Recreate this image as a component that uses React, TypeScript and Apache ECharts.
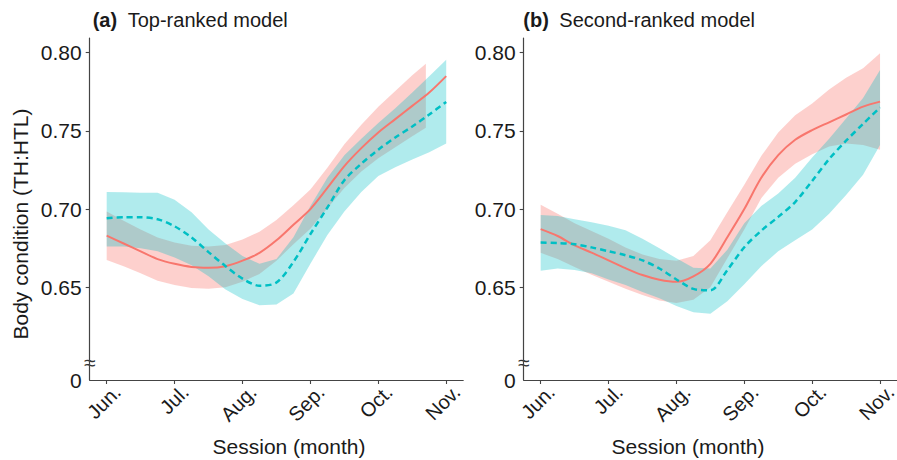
import React, { useEffect, useRef } from "react";
import * as echarts from "echarts";

// ---------- data ----------
const MONTH_TICKS = [6, 7, 8, 9, 10, 11];
const MONTH_LABELS = ["Jun.", "Jul.", "Aug.", "Sep.", "Oct.", "Nov."];
const Y_TICKS = [0.65, 0.7, 0.75, 0.8];
const Y_MIN = 0.5907; // shown as "0" (broken axis)
const Y_MAX = 0.8094;
const BREAK_AT = 0.6016;

const MONTHS = [6, 6.25, 6.5, 6.75, 7, 7.25, 7.5, 7.75, 8, 8.25, 8.5, 8.75, 9, 9.25, 9.5, 9.75, 10, 10.25, 10.5, 10.75, 11];

// (a) Top-ranked model
const A_RED_FIT = [0.683, 0.678, 0.673, 0.668, 0.665, 0.663, 0.6625, 0.6635, 0.667, 0.672, 0.68, 0.69, 0.7, 0.7135, 0.7275, 0.739, 0.749, 0.7575, 0.766, 0.7745, 0.785];
const A_RED_BAND_MONTHS = [6, 6.25, 6.5, 6.75, 7, 7.25, 7.5, 7.75, 8, 8.25, 8.5, 8.75, 9, 9.25, 9.5, 9.75, 10, 10.25, 10.5, 10.7];
const A_RED_LO = [0.6675, 0.6635, 0.659, 0.6542, 0.6514, 0.6495, 0.649, 0.65, 0.6535, 0.6585, 0.667, 0.6775, 0.6875, 0.7005, 0.7135, 0.724, 0.7325, 0.7395, 0.7465, 0.752];
const A_RED_HI = [0.6985, 0.6925, 0.687, 0.6818, 0.6786, 0.6765, 0.676, 0.677, 0.6805, 0.6855, 0.693, 0.7025, 0.7125, 0.7265, 0.7415, 0.754, 0.7655, 0.7755, 0.7855, 0.793];
const A_CYAN_FIT = [0.6941, 0.6948, 0.6948, 0.6935, 0.689, 0.6818, 0.6725, 0.6635, 0.6555, 0.651, 0.653, 0.6662, 0.684, 0.701, 0.7185, 0.729, 0.738, 0.7458, 0.7528, 0.7605, 0.7685];
const A_CYAN_LO = [0.676, 0.676, 0.675, 0.673, 0.669, 0.664, 0.657, 0.6485, 0.6425, 0.6385, 0.639, 0.646, 0.665, 0.6835, 0.6985, 0.711, 0.7212, 0.7267, 0.7317, 0.7363, 0.742];
const A_CYAN_HI = [0.711, 0.7108, 0.7105, 0.7105, 0.706, 0.698, 0.687, 0.678, 0.67, 0.665, 0.668, 0.682, 0.702, 0.72, 0.7345, 0.745, 0.755, 0.7645, 0.7745, 0.785, 0.7955];

// (b) Second-ranked model
const B_RED_FIT = [0.6872, 0.6828, 0.6768, 0.6722, 0.6672, 0.6622, 0.6578, 0.6548, 0.6535, 0.657, 0.665, 0.682, 0.7, 0.72, 0.7345, 0.7443, 0.7505, 0.7555, 0.7605, 0.7655, 0.7687];
const B_RED_LO = [0.672, 0.668, 0.663, 0.658, 0.6535, 0.649, 0.645, 0.6415, 0.64, 0.642, 0.65, 0.6685, 0.687, 0.707, 0.72, 0.729, 0.735, 0.74, 0.742, 0.741, 0.738];
const B_RED_HI = [0.7027, 0.697, 0.691, 0.686, 0.681, 0.6755, 0.671, 0.668, 0.667, 0.67, 0.68, 0.698, 0.7155, 0.734, 0.749, 0.76, 0.7675, 0.7765, 0.784, 0.79, 0.7996];
const B_CYAN_FIT = [0.6786, 0.6783, 0.6775, 0.6755, 0.673, 0.6705, 0.6672, 0.662, 0.655, 0.649, 0.648, 0.661, 0.6756, 0.6862, 0.695, 0.7045, 0.718, 0.732, 0.7437, 0.7545, 0.765];
const B_CYAN_LO = [0.6606, 0.662, 0.661, 0.659, 0.655, 0.6515, 0.647, 0.643, 0.638, 0.634, 0.633, 0.641, 0.652, 0.6635, 0.673, 0.68, 0.687, 0.697, 0.709, 0.722, 0.741];
const B_CYAN_HI = [0.6962, 0.6955, 0.6935, 0.6915, 0.6893, 0.6865, 0.681, 0.675, 0.6685, 0.6625, 0.662, 0.674, 0.691, 0.702, 0.71, 0.72, 0.733, 0.745, 0.758, 0.771, 0.789];

const PANEL_TITLES = [
  ["(a)", "Top-ranked model"],
  ["(b)", "Second-ranked model"],
];
const X_TITLE = "Session (month)";
const Y_TITLE = "Body condition (TH:HTL)";

// ---------- style ----------
const RED = "#F8766D";
const CYAN = "#00BFC4";
const RED_FILL = "rgba(248,118,109,0.34)";
const CYAN_FILL = "rgba(0,191,196,0.31)";
const FONT = "'Liberation Sans', Arial, sans-serif";
const AXIS = "#444444";
const TXT = "#1a1a1a";
const GRIDS = [
  { left: 89.7, top: 38, width: 373.5, height: 342 },
  { left: 523.7, top: 38, width: 373.3, height: 342 },
];

const pairs = (xs: number[], ys: number[]) => xs.map((x, i) => [x, ys[i]]);

function bandSeries(idx: number, xs: number[], lo: number[], hi: number[], fill: string) {
  return {
    type: "custom",
    xAxisIndex: idx,
    yAxisIndex: idx,
    silent: true,
    clip: true,
    data: xs.map((x, i) => [x, lo[i], hi[i]]),
    encode: { x: 0, y: [1, 2] },
    renderItem: (params: any, api: any) => {
      if (params.dataIndex !== 0) return null;
      const pts: number[][] = [];
      for (let i = 0; i < xs.length; i++) pts.push(api.coord([xs[i], hi[i]]));
      for (let i = xs.length - 1; i >= 0; i--) pts.push(api.coord([xs[i], lo[i]]));
      return { type: "polygon", shape: { points: pts }, style: { fill, stroke: "none" } };
    },
  };
}

function panelSeries(
  idx: number,
  redBandMonths: number[],
  redLo: number[],
  redHi: number[],
  redFit: number[],
  cyanLo: number[],
  cyanHi: number[],
  cyanFit: number[]
) {
  const base = {
    type: "line",
    xAxisIndex: idx,
    yAxisIndex: idx,
    symbol: "none",
    silent: true,
    smooth: 0.3,
  };
  return [
    bandSeries(idx, redBandMonths, redLo, redHi, RED_FILL),
    { ...base, data: pairs(MONTHS, redFit), lineStyle: { color: RED, width: 2 } },
    bandSeries(idx, MONTHS, cyanLo, cyanHi, CYAN_FILL),
    { ...base, data: pairs(MONTHS, cyanFit), lineStyle: { color: CYAN, width: 2.5, type: [6, 4] } },
  ];
}

function xAxis(i: number) {
  return {
    type: "value",
    gridIndex: i,
    min: 5.75,
    max: 11.25,
    splitLine: { show: false },
    axisLine: { show: true, onZero: false, lineStyle: { color: AXIS, width: 1.2 } },
    axisTick: { show: true, customValues: MONTH_TICKS, length: 4, lineStyle: { color: AXIS, width: 1.1 } },
    axisLabel: {
      customValues: MONTH_TICKS,
      formatter: (v: number) => MONTH_LABELS[MONTH_TICKS.indexOf(Math.round(v))] ?? "",
      rotate: 45,
      fontSize: 20,
      lineHeight: 30,
      verticalAlign: "top",
      color: TXT,
      fontFamily: FONT,
      margin: -2,
    },
  };
}

function yAxis(i: number) {
  return {
    type: "value",
    gridIndex: i,
    min: Y_MIN,
    max: Y_MAX,
    splitLine: { show: false },
    axisLine: { show: true, onZero: false, lineStyle: { color: AXIS, width: 1.2 } },
    axisTick: { show: true, customValues: Y_TICKS, length: 4, lineStyle: { color: AXIS, width: 1.1 } },
    axisLabel: {
      customValues: [Y_MIN, ...Y_TICKS],
      formatter: (v: number) => (v < 0.6 ? "0" : v.toFixed(2)),
      fontSize: 21,
      color: TXT,
      fontFamily: FONT,
      margin: 8,
    },
  };
}

export default function App() {
  const ref = useRef<HTMLDivElement>(null);
  useEffect(() => {
    if (!ref.current) return;
    const chart = echarts.init(ref.current, undefined, { renderer: "svg" });
    const option: any = {
      animation: false,
      backgroundColor: "#ffffff",
      grid: GRIDS.map((g) => ({ ...g, containLabel: false, outerBoundsMode: "none" })),
      xAxis: [xAxis(0), xAxis(1)],
      yAxis: [yAxis(0), yAxis(1)],
      series: [
        ...panelSeries(0, A_RED_BAND_MONTHS, A_RED_LO, A_RED_HI, A_RED_FIT, A_CYAN_LO, A_CYAN_HI, A_CYAN_FIT),
        ...panelSeries(1, MONTHS, B_RED_LO, B_RED_HI, B_RED_FIT, B_CYAN_LO, B_CYAN_HI, B_CYAN_FIT),
      ],
    };
    chart.setOption(option);

    const graphics: any[] = [];
    const titleX = [
      [92.7, 127.7],
      [523.3, 559.3],
    ];
    const xTitleCenter = [289, 688];
    PANEL_TITLES.forEach((t, i) => {
      graphics.push({
        type: "text",
        x: titleX[i][0],
        y: 20,
        style: { text: t[0], fontSize: 20, fontWeight: "bold", fontFamily: FONT, fill: TXT, align: "left", verticalAlign: "middle" },
      });
      graphics.push({
        type: "text",
        x: titleX[i][1],
        y: 20,
        style: { text: t[1], fontSize: 20, fontFamily: FONT, fill: TXT, align: "left", verticalAlign: "middle" },
      });
      graphics.push({
        type: "text",
        x: xTitleCenter[i],
        y: 446,
        style: { text: X_TITLE, fontSize: 21, fontFamily: FONT, fill: TXT, align: "center", verticalAlign: "middle" },
      });
      const p = chart.convertToPixel({ gridIndex: i } as any, [5.75, BREAK_AT]) as number[];
      graphics.push({
        type: "text",
        x: p[0],
        y: p[1],
        style: { text: "≈", fontSize: 21, fontFamily: FONT, fill: "#333", align: "center", verticalAlign: "middle" },
      });
    });
    graphics.push({
      type: "text",
      x: 20.5,
      y: 224,
      rotation: Math.PI / 2,
      style: { text: Y_TITLE, fontSize: 21, fontFamily: FONT, fill: TXT, align: "center", verticalAlign: "middle" },
    });
    chart.setOption({ graphic: graphics });

    return () => chart.dispose();
  }, []);
  return <div ref={ref} style={{ position: "fixed", left: 0, top: 0, width: 897, height: 460 }} />;
}
